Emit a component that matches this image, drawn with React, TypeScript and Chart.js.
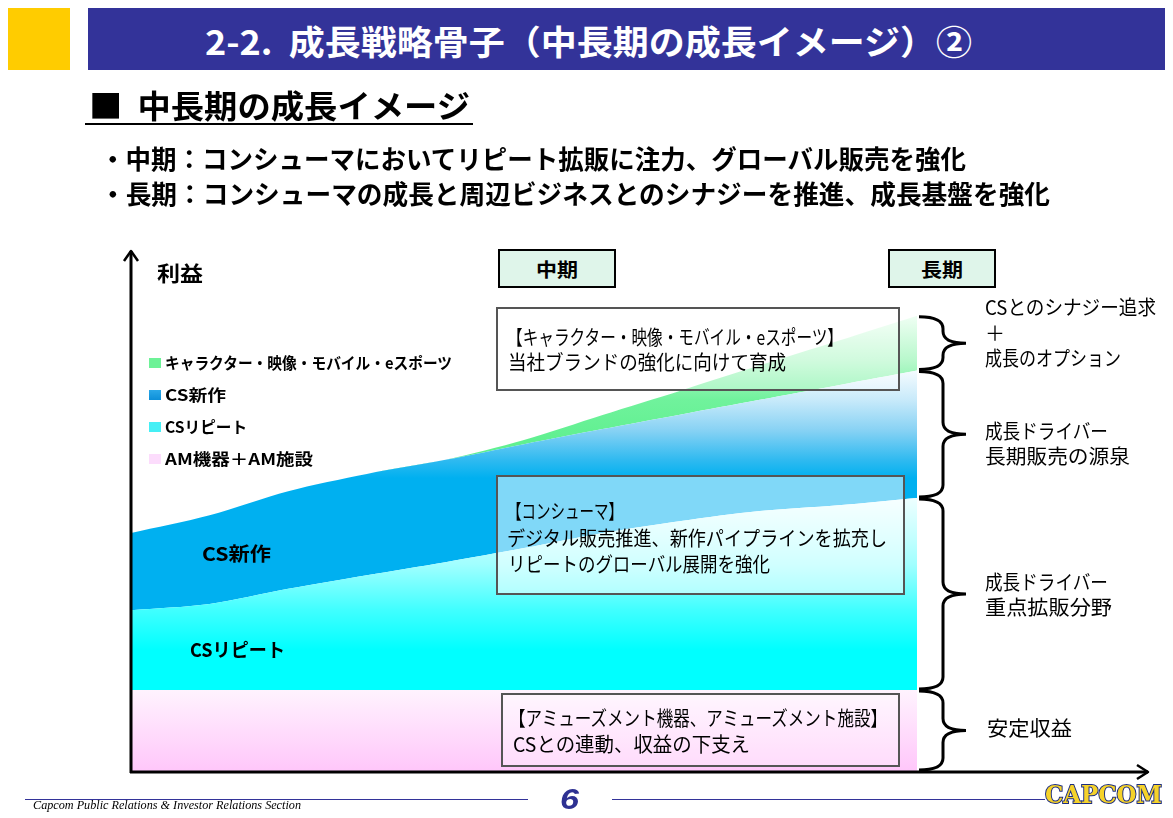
import React, { useEffect, useLayoutEffect, useRef } from 'react';
import { Chart, registerables } from 'chart.js';

Chart.register(...registerables);

// ---- Data ----
const periods = ['0', '1', '2', '3', '4', '5', '6', '7', '8', '9', '10'];
const seriesNames = ['AM機器＋AM施設', 'CSリピート', 'CS新作', 'キャラクター・映像・モバイル・eスポーツ'];
const amValues = [15.7, 15.7, 15.7, 15.7, 15.7, 15.7, 15.7, 15.7, 15.7, 15.7, 15.7];
const repeatValues = [15.3, 16.5, 19.4, 22.0, 24.5, 27.2, 30.1, 32.4, 34.3, 35.4, 36.8];
const newTitleValues = [14.8, 17.0, 18.7, 19.4, 19.6, 19.9, 19.9, 20.4, 21.3, 23.0, 24.4];
const characterValues = [0, 0, 0, 0, 0, 0.8, 2.7, 4.6, 6.6, 8.5, 10.5];

const JP = '"Noto Sans CJK JP", "Noto Sans", sans-serif';

type Stop = [number, string];
const pinkStops: Stop[] = [[15.7, '#FFF3FE'], [0, '#FFC6FA']];
const cyanStops: Stop[] = [[52.5, '#EEFFFF'], [44.4, '#C0FFFF'], [39.7, '#A0FFFF'], [31.0, '#40FFFF'], [23.4, '#00FFFF']];
const blueStops: Stop[] = [[76.6, '#F2FAFE'], [71.3, '#C8EAFA'], [65.5, '#88D2F4'], [59.8, '#30BAF0'], [56.3, '#00B0F0']];
const greenStops: Stop[] = [[87.5, '#F0FFF4'], [78.9, '#B8F8CC'], [71.3, '#70F29C'], [63.6, '#60F090']];

function vGrad(stops: Stop[]) {
  return (ctx: any) => {
    const chart = ctx.chart;
    const area = chart.chartArea;
    if (!area) return stops[stops.length - 1][1];
    const y = chart.scales.y;
    const top = y.getPixelForValue(stops[0][0]);
    const bot = y.getPixelForValue(stops[stops.length - 1][0]);
    const g = chart.ctx.createLinearGradient(0, top, 0, bot);
    stops.forEach(([v, c]) => {
      const f = (y.getPixelForValue(v) - top) / (bot - top);
      g.addColorStop(Math.min(1, Math.max(0, f)), c);
    });
    return g;
  };
}

const decorPlugin = {
  id: 'decor',
  afterDatasetsDraw(chart: any) {
    const { ctx, chartArea: a, scales } = chart;
    const y = scales.y;
    ctx.save();
    // braces at the right end of the stacked areas
    const last = periods.length - 1;
    const c1 = amValues[last];
    const c2 = c1 + repeatValues[last];
    const c3 = c2 + newTitleValues[last];
    const c4 = c3 + characterValues[last];
    const ranges: [number, number][] = [[0, c1], [c1, c2], [c2, c3], [c3, c4]];
    ctx.strokeStyle = '#000';
    ctx.lineWidth = 3;
    ctx.lineJoin = 'round';
    ctx.lineCap = 'butt';
    const x0 = a.right + 2;
    const xs = x0 + 24;
    const xt = x0 + 47;
    ranges.forEach(([lo, hi]) => {
      const yt = y.getPixelForValue(hi) + 1;
      const yb = Math.min(y.getPixelForValue(lo) - 1, a.bottom - 2);
      const ym = (yt + yb) / 2;
      const r = Math.min(12, (yb - yt) / 4);
      ctx.beginPath();
      ctx.moveTo(x0, yt);
      ctx.quadraticCurveTo(xs, yt, xs, yt + r);
      ctx.lineTo(xs, ym - r);
      ctx.quadraticCurveTo(xs, ym, xt, ym);
      ctx.moveTo(xt, ym);
      ctx.quadraticCurveTo(xs, ym, xs, ym + r);
      ctx.lineTo(xs, yb - r);
      ctx.quadraticCurveTo(xs, yb, x0, yb);
      ctx.stroke();
    });
    // axes with arrows
    ctx.lineWidth = 3;
    ctx.strokeStyle = '#000';
    ctx.beginPath();
    ctx.moveTo(a.left, a.bottom + 1);
    ctx.lineTo(a.left, a.top + 1);
    ctx.moveTo(a.left - 1, a.bottom);
    ctx.lineTo(a.right + 231, a.bottom);
    ctx.stroke();
    ctx.lineWidth = 2.5;
    ctx.beginPath();
    ctx.moveTo(a.left - 7, a.top + 11);
    ctx.lineTo(a.left, a.top + 1);
    ctx.lineTo(a.left + 7, a.top + 11);
    ctx.moveTo(a.right + 220, a.bottom - 7);
    ctx.lineTo(a.right + 231, a.bottom);
    ctx.lineTo(a.right + 220, a.bottom + 7);
    ctx.stroke();
    ctx.restore();
  },
};

type TProps = {
  x: number;
  y: number;
  w?: number;
  size: number;
  bold?: boolean;
  color?: string;
  italic?: boolean;
  family?: string;
  extra?: React.CSSProperties;
  children: React.ReactNode;
};

function T({ x, y, w, size, bold, color, italic, family, extra, children }: TProps) {
  const ref = useRef<HTMLSpanElement>(null);
  useLayoutEffect(() => {
    const el = ref.current;
    if (!el || !w) return;
    el.style.transform = 'none';
    const nat = el.getBoundingClientRect().width;
    if (nat > 0) el.style.transform = `scaleX(${w / nat})`;
  });
  const lh = size * 1.2;
  return (
    <span
      ref={ref}
      style={{
        position: 'absolute',
        left: x,
        top: y - lh / 2,
        fontSize: size,
        lineHeight: `${lh}px`,
        whiteSpace: 'nowrap',
        transformOrigin: 'left center',
        fontWeight: bold ? 700 : 400,
        fontStyle: italic ? 'italic' : 'normal',
        color: color || '#000',
        fontFamily: family || JP,
        ...extra,
      }}
    >
      {children}
    </span>
  );
}

const boxStyle = (l: number, t: number, r: number, b: number, bg: string, border: string): React.CSSProperties => ({
  position: 'absolute',
  left: l,
  top: t,
  width: r - l,
  height: b - t,
  background: bg,
  border: `2px solid ${border}`,
  boxSizing: 'border-box',
});

const legendColors = ['#FCDCFC', '#45EFF5', 'linear-gradient(#2AA8E8,#0D8FD8)', '#6DF297'];

export default function App() {
  const canvasRef = useRef<HTMLCanvasElement>(null);

  useEffect(() => {
    document.body.style.margin = '0';
    const canvas = canvasRef.current;
    if (!canvas) return;
    const common = {
      borderWidth: 0,
      borderColor: 'rgba(0,0,0,0)',
      pointRadius: 0,
      pointHoverRadius: 0,
      tension: 0.3,
    };
    const chart = new Chart(canvas, {
      type: 'line',
      data: {
        labels: periods,
        datasets: [
          { ...common, label: seriesNames[0], data: amValues, fill: 'origin', backgroundColor: vGrad(pinkStops) },
          { ...common, label: seriesNames[1], data: repeatValues, fill: '-1', backgroundColor: vGrad(cyanStops) },
          { ...common, label: seriesNames[2], data: newTitleValues, fill: '-1', backgroundColor: vGrad(blueStops) },
          { ...common, label: seriesNames[3], data: characterValues, fill: '-1', backgroundColor: vGrad(greenStops) },
        ],
      },
      options: {
        responsive: false,
        animation: false,
        devicePixelRatio: 1,
        layout: { padding: { left: 131, right: 256, top: 250, bottom: 46 } },
        plugins: { legend: { display: false }, tooltip: { enabled: false } },
        scales: {
          x: { display: false, offset: false },
          y: { display: false, stacked: true, min: 0, max: 100 },
        },
      },
      plugins: [decorPlugin],
    } as any);
    return () => chart.destroy();
  }, []);

  const legendRows = [
    { name: seriesNames[3], color: legendColors[3], y: 363, w: 287 },
    { name: seriesNames[2], color: legendColors[2], y: 395, w: 61 },
    { name: seriesNames[1], color: legendColors[1], y: 427, w: 82 },
    { name: seriesNames[0], color: legendColors[0], y: 459, w: 148 },
  ];

  return (
    <div
      style={{
        position: 'absolute',
        left: 0,
        top: 0,
        width: 1173,
        height: 818,
        background: '#fff',
        overflow: 'hidden',
        fontFamily: JP,
      }}
    >
      <canvas ref={canvasRef} width={1173} height={818} style={{ position: 'absolute', left: 0, top: 0, width: 1173, height: 818 }} />

      {/* header */}
      <div style={{ position: 'absolute', left: 8, top: 8, width: 62, height: 62, background: '#FFCC00' }} />
      <div style={{ position: 'absolute', left: 88, top: 8, width: 1077, height: 62, background: '#333399' }} />
      <T x={205} y={41} w={767} size={34} bold color="#fff">2-2.&nbsp;&nbsp;成長戦略骨子（中長期の成長イメージ）②</T>

      <T x={89} y={104} w={381} size={32} bold>■&nbsp;&nbsp;中長期の成長イメージ</T>
      <div style={{ position: 'absolute', left: 85, top: 123, width: 388, height: 2, background: '#000' }} />
      <T x={100} y={158} w={866} size={26} bold>・中期：コンシューマにおいてリピート拡販に注力、グローバル販売を強化</T>
      <T x={100} y={193} w={950} size={26} bold>・長期：コンシューマの成長と周辺ビジネスとのシナジーを推進、成長基盤を強化</T>

      {/* axis title */}
      <T x={157} y={273} w={46} size={21} bold>利益</T>

      {/* period boxes */}
      <div style={boxStyle(498, 249, 616, 288, '#DFF5EA', '#000')} />
      <T x={536} y={269} w={42} size={19} bold>中期</T>
      <div style={boxStyle(888, 249, 996, 288, '#DFF5EA', '#000')} />
      <T x={921} y={269} w={42} size={19} bold>長期</T>

      {/* legend */}
      {legendRows.map((r) => (
        <React.Fragment key={r.name}>
          <div style={{ position: 'absolute', left: 149, top: r.y - 5, width: 12, height: 10, background: r.color }} />
          <T x={165} y={r.y} w={r.w} size={16} bold>{r.name}</T>
        </React.Fragment>
      ))}

      {/* in-area labels */}
      <T x={202} y={553} w={69} size={19} bold>CS新作</T>
      <T x={190} y={649} w={95} size={19} bold>CSリピート</T>

      {/* description boxes */}
      <div style={boxStyle(496, 307, 900, 391, 'rgba(255,255,255,0.35)', '#555')} />
      <T x={507} y={337} w={336} size={20}>【キャラクター・映像・モバイル・eスポーツ】</T>
      <T x={508} y={362} w={278} size={20}>当社ブランドの強化に向けて育成</T>

      <div style={boxStyle(496, 475, 905, 595, 'rgba(255,255,255,0.5)', '#555')} />
      <T x={507} y={511} w={116} size={20}>【コンシューマ】</T>
      <T x={507} y={538} w={380} size={20}>デジタル販売推進、新作パイプラインを拡充し</T>
      <T x={508} y={564} w={262} size={20}>リピートのグローバル展開を強化</T>

      <div style={boxStyle(501, 693, 900, 767, 'rgba(255,255,255,0.35)', '#555')} />
      <T x={509} y={718} w={378} size={20}>【アミューズメント機器、アミューズメント施設】</T>
      <T x={513} y={744} w={237} size={20}>CSとの連動、収益の下支え</T>

      {/* right-side explanations */}
      <T x={985} y={307} w={171} size={20}>CSとのシナジー追求</T>
      <T x={985} y={333} size={20}>＋</T>
      <T x={985} y={358} w={136} size={20}>成長のオプション</T>
      <T x={985} y={431} w={123} size={20}>成長ドライバー</T>
      <T x={985} y={456} w={145} size={20}>長期販売の源泉</T>
      <T x={985} y={582} w={123} size={20}>成長ドライバー</T>
      <T x={985} y={607} w={127} size={20}>重点拡販分野</T>
      <T x={987} y={728} w={85} size={20}>安定収益</T>

      {/* footer */}
      <div style={{ position: 'absolute', left: 25, top: 799, width: 503, height: 1, background: '#333399' }} />
      <div style={{ position: 'absolute', left: 612, top: 799, width: 433, height: 1, background: '#333399' }} />
      <T x={33} y={806} w={268} size={11.5} italic family='"Liberation Serif", serif'>
        Capcom Public Relations &amp; Investor Relations Section
      </T>
      <T x={560} y={799} w={19} size={30} bold italic color="#2E3192" family='"Liberation Sans", sans-serif'>6</T>
      <T
        x={1045}
        y={795}
        w={117}
        size={24}
        bold
        color="#F5D22A"
        family='"DejaVu Serif", serif'
        extra={{ WebkitTextStroke: '2px #1C2C80', paintOrder: 'stroke fill', fontWeight: 900 } as React.CSSProperties}
      >
        CAPCOM
      </T>
    </div>
  );
}
